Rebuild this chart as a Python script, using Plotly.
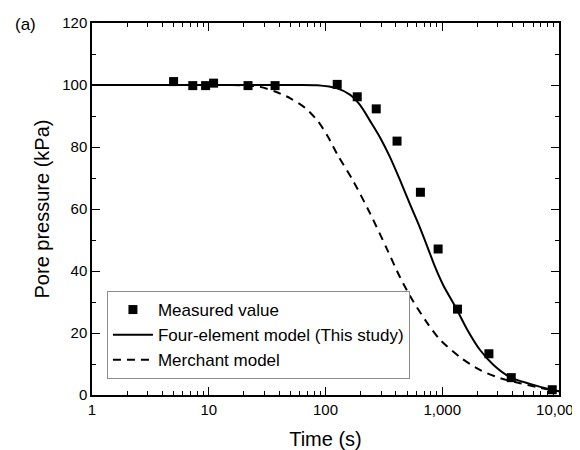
import plotly.graph_objects as go

# Measured data
meas_t = [5.0, 7.3, 9.4, 11.0, 21.7, 37, 126, 187, 272, 410, 650, 922, 1350, 2510, 3900, 8750]
meas_p = [101.1, 99.8, 99.8, 100.6, 99.8, 99.8, 100.2, 96.2, 92.3, 81.9, 65.4, 47.1, 27.7, 13.3, 5.6, 1.7]

# Four-element model (This study)
four_t = [1, 10, 50, 85, 126, 163, 198, 240, 294, 356, 436, 531, 650, 760, 868, 1020, 1290, 1620, 2100, 2750, 3800, 5650, 8400, 10000]
four_p = [100, 100, 100, 99.9, 98.9, 96.8, 93.5, 88.5, 83.0, 76.8, 69.2, 61.4, 53.6, 47.0, 41.3, 35.4, 28.6, 21.4, 14.6, 9.7, 5.8, 3.6, 1.8, 1.2]

# Merchant model
merch_t = [1, 10, 20, 27.5, 37, 50, 67, 86.6, 105, 128, 173, 240, 337, 436, 560, 745, 960, 1420, 2100, 3150, 4650, 6900, 10000]
merch_p = [100, 100, 99.9, 99.4, 97.9, 95.7, 92.6, 88.2, 83.3, 77.2, 69.0, 58.7, 47.0, 37.9, 30.4, 23.2, 17.8, 12.2, 8.1, 5.4, 3.8, 2.3, 1.2]

x_tickvals = [1, 10, 100, 1000, 10000]
x_ticktext = ["1", "10", "100", "1,000", "10,000"]
x_minorvals = [m * d for d in [1, 10, 100, 1000] for m in range(2, 10)]

FONT = "Liberation Sans, Arial, sans-serif"

fig = go.Figure()
fig.add_trace(go.Scatter(
    x=meas_t, y=meas_p, mode="markers", name="Measured value",
    marker=dict(symbol="square", size=9, color="black"),
))
fig.add_trace(go.Scatter(
    x=four_t, y=four_p, mode="lines", name="Four-element model (This study)",
    line=dict(color="black", width=2, shape="spline", smoothing=0.8),
))
fig.add_trace(go.Scatter(
    x=merch_t, y=merch_p, mode="lines", name="Merchant model",
    line=dict(color="black", width=2, dash="8px,6px", shape="spline", smoothing=0.8),
))

# page body has an 8px margin, so the figure is sized/margined to compensate
fig.update_layout(
    width=572, height=442,
    margin=dict(l=84, r=21, t=15, b=55),
    paper_bgcolor="white", plot_bgcolor="white",
    font=dict(family=FONT, size=15, color="black"),
    showlegend=True,
    legend=dict(
        x=0.032, y=0.043, xanchor="left", yanchor="bottom",
        bordercolor="#8c8c8c", borderwidth=1, bgcolor="white",
        font=dict(size=17, family=FONT), itemwidth=40,
        tracegroupgap=0,
    ),
    annotations=[dict(
        text="(a)", xref="paper", yref="paper", x=-0.169, y=0.995,
        xanchor="left", yanchor="middle", showarrow=False,
        font=dict(size=17, family=FONT),
    )],
)

fig.update_xaxes(
    type="log", range=[0, 4], automargin=False,
    tickvals=x_tickvals, ticktext=x_ticktext,
    ticks="inside", ticklen=8, tickwidth=1.2, tickcolor="black",
    minor=dict(tickvals=x_minorvals, ticks="inside", ticklen=4, tickwidth=1, tickcolor="black", showgrid=False),
    showline=True, linecolor="black", linewidth=1.5, mirror="ticks",
    showgrid=False, zeroline=False, ticklabeloverflow="allow",
    title=dict(text="Time (s)", font=dict(size=20, family=FONT), standoff=21),
    tickfont=dict(size=15),
)
fig.update_yaxes(
    range=[0, 120], tickvals=[0, 20, 40, 60, 80, 100, 120], automargin=False,
    ticks="inside", ticklen=8, tickwidth=1.2, tickcolor="black",
    minor=dict(ticks="inside", ticklen=4, tickwidth=1, tickcolor="black", dtick=10, tick0=0, showgrid=False),
    showline=True, linecolor="black", linewidth=1.5, mirror="ticks",
    showgrid=False, zeroline=False,
    title=dict(text="Pore pressure (kPa)", font=dict(size=20, family=FONT), standoff=7),
    tickfont=dict(size=15),
)

fig.write_html("out.html")
